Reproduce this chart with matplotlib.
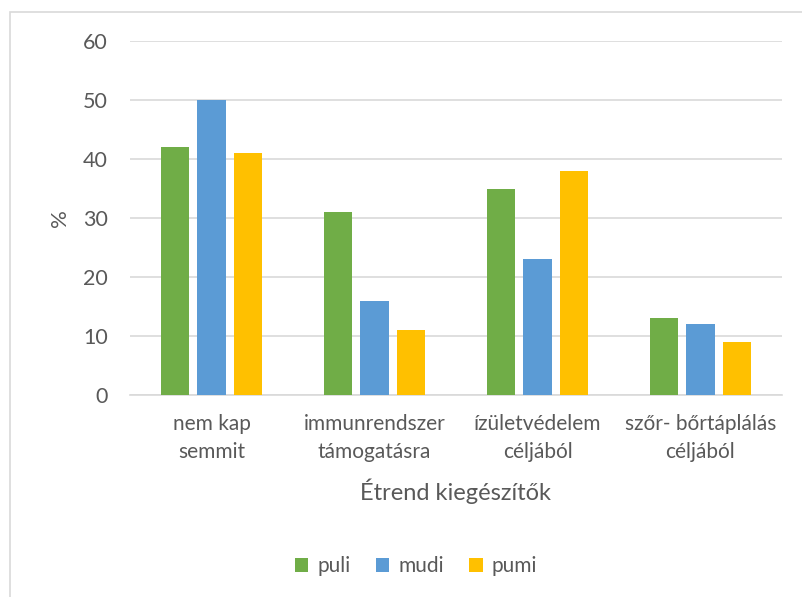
import matplotlib.pyplot as plt
import numpy as np
from matplotlib.patches import Rectangle

# categories and series
categories = ["nem kap\nsemmit", "immunrendszer\ntámogatásra",
              "ízületvédelem\ncéljából", "szőr- bőrtáplálás\ncéljából"]
puli = [42, 31, 35, 13]
mudi = [50, 16, 23, 12]
pumi = [41, 11, 38, 9]
series = ["puli", "mudi", "pumi"]
colors = ["#70AD47", "#5B9BD5", "#FFC000"]
yticks = [0, 10, 20, 30, 40, 50, 60]

plt.rcParams['font.family'] = ['Lato', 'DejaVu Sans']
txt = "#595959"

fig = plt.figure(figsize=(8.03, 5.97), dpi=100)
# light chart border (only left and top visible, rest cut off)
fig.patches.append(Rectangle((10 / 803, -0.1), 1.2, (597 - 12) / 597 + 0.1,
                             transform=fig.transFigure, fill=False,
                             edgecolor="#D9D9D9", linewidth=1.2))

ax = fig.add_axes([130 / 803, 1 - 395 / 597, 652 / 803, 354 / 597])
x = np.arange(len(categories))
w = 0.172
step = 0.221
for i, (vals, name) in enumerate(zip([puli, mudi, pumi], series)):
    ax.bar(x + (i - 1) * step, vals, width=w, color=colors[i], label=name, zorder=3)

ax.set_xlim(-0.5, len(categories) - 0.5)
ax.set_ylim(0, 60)
ax.set_yticks(yticks)
ax.yaxis.grid(True, color="#D9D9D9", linewidth=1.2, zorder=0)
for s in ["top", "right", "left"]:
    ax.spines[s].set_visible(False)
ax.spines["bottom"].set_color("#D9D9D9")
ax.spines["bottom"].set_linewidth(1.2)
ax.tick_params(axis="both", length=0, colors=txt)
ax.tick_params(axis="y", labelsize=15.5, pad=16)
ax.set_xticks(x)
ax.set_xticklabels(categories, fontsize=15, color=txt, linespacing=1.45)
ax.tick_params(axis="x", pad=14)

ax.set_ylabel("%", fontsize=16, color=txt, labelpad=9)
ax.set_xlabel("Étrend kiegészítők", fontsize=17, color=txt, labelpad=12)

fig.legend(loc="center", bbox_to_anchor=(0.518, 1 - 566 / 597), ncol=3,
           frameon=False, fontsize=15, labelcolor=txt, handlelength=0.65,
           handleheight=0.65, handletextpad=0.45, columnspacing=1.2)

fig.savefig("out.png", dpi=100, facecolor="white")
